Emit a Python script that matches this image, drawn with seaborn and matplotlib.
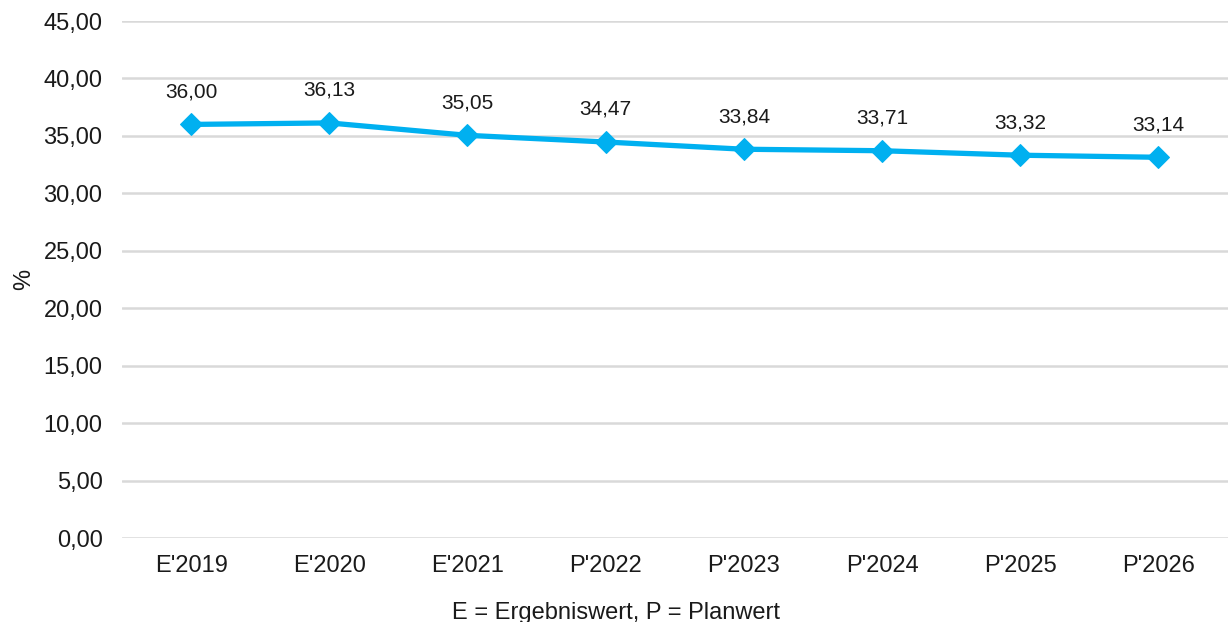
import numpy as np
import pandas as pd
import matplotlib
matplotlib.use("Agg")
import matplotlib.pyplot as plt
import seaborn as sns

# data
years = ["E'2019", "E'2020", "E'2021", "P'2022", "P'2023", "P'2024", "P'2025", "P'2026"]
values = [36.00, 36.13, 35.05, 34.47, 33.84, 33.71, 33.32, 33.14]
y_ticks = [0, 5, 10, 15, 20, 25, 30, 35, 40, 45]

df = pd.DataFrame({"year": years, "value": values})

sns.set_style("white")
plt.rcParams['font.family'] = ['Liberation Sans', 'DejaVu Sans']

fig = plt.figure(figsize=(12.3, 6.22), dpi=100)
ax = fig.add_axes([0.0992, 0.135, 0.8988, 0.8312])

line_color = "#00B0F0"
sns.lineplot(data=df, x="year", y="value", ax=ax, color=line_color, linewidth=3.8,
             marker="D", markersize=11, markeredgecolor=line_color, sort=False)

# data labels above the points
for i, v in enumerate(values):
    ax.annotate(f"{v:.2f}".replace(".", ","), (i, v), xytext=(0, 23.5),
                textcoords="offset points", ha="center", va="center", fontsize=15, color="#1a1a1a")

ax.set_xlim(-0.5, len(years) - 0.5)
ax.set_ylim(0, 45)
ax.set_yticks(y_ticks)
ax.set_yticklabels([f"{t:.2f}".replace(".", ",") for t in y_ticks])
ax.yaxis.grid(True, color="#D9D9D9", linewidth=1.8)
ax.set_axisbelow(True)
for s in ax.spines.values():
    s.set_visible(False)
ax.tick_params(axis="both", length=0, labelsize=17, colors="#1a1a1a")
ax.tick_params(axis="y", pad=14)
ax.tick_params(axis="x", pad=12)

ax.set_ylabel("%", fontsize=17, color="#1a1a1a", labelpad=6)
ax.set_xlabel("E = Ergebniswert, P = Planwert", fontsize=17, color="#1a1a1a", labelpad=18)
ax.xaxis.label.set_x(0.447)

fig.savefig("out.png", dpi=100)
